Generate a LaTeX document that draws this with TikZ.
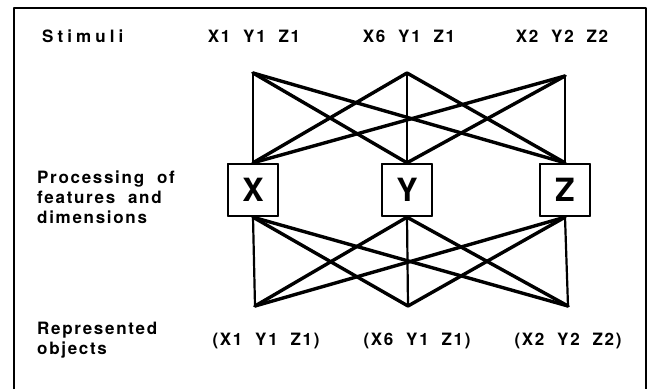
\documentclass[tikz,border=0pt]{standalone}
\usepackage{fontspec}
\newfontfamily\heavyfont[LetterSpace=10]{texgyreheros-bold.otf}
\newfontfamily\widefont[LetterSpace=24]{texgyreheros-bold.otf}
\newfontfamily\boxfont{texgyreheros-bold.otf}
\usetikzlibrary{calc,positioning}

\tikzset{
  lbl/.style={font=\heavyfont\fontsize{17}{20}\selectfont, inner sep=0pt},
  link/.style={line width=3.4pt, line cap=round},
  stem/.style={line width=2.2pt},
  featbox/.style={draw, line width=2.4pt, fill=white, minimum width=50pt, minimum height=52pt, inner sep=0pt, font=\boxfont\fontsize{32}{34}\selectfont},
}

\begin{document}
\begin{tikzpicture}[x=1pt,y=-1pt, line join=round]
    \useasboundingbox(0,0)rectangle(655,389);

    % Rahmen
    \path[draw, line width=2.4pt](14,389)to(14,8)to(646,8)to(646,389);

    % Stimuli
    \node[lbl, anchor=west, font=\widefont\fontsize{17}{20}\selectfont](stim)at(42,36){Stimuli};
    \node[lbl](s1)at(254,36){X1~~Y1~~Z1};
    \node[lbl](s2)at(409,36){X6~~Y1~~Z1};
    \node[lbl](s3)at(562,36){X2~~Y2~~Z2};

    % Eingang
    \coordinate(T1)at(253,73);
    \coordinate(T2)at(407,73);
    \coordinate(T3)at(565,76);

    % Ausgang
    \coordinate(B1)at(255,306);
    \coordinate(B2)at(408,306);
    \coordinate(B3)at(568,306);

    % Merkmale
    \node[featbox](X)at(253,190){X};
    \node[featbox](Y)at(407,190){Y};
    \node[featbox](Z)at(565,190){Z};

    % Verbindungen oben
    \path[draw, stem](T1)to(X.north);
    \path[draw, link](T1)to(Y.north);
    \path[draw, link](T1)to(Z.north);
    \path[draw, link](T2)to(X.north);
    \path[draw, stem](T2)to(Y.north);
    \path[draw, link](T2)to(Z.north);
    \path[draw, link](T3)to(X.north);
    \path[draw, link](T3)to(Y.north);
    \path[draw, stem](T3)to(Z.north);

    % Verbindungen unten
    \path[draw, stem](X.south)to(B1);
    \path[draw, link](X.south)to(B2);
    \path[draw, link](X.south)to(B3);
    \path[draw, link](Y.south)to(B1);
    \path[draw, stem](Y.south)to(B2);
    \path[draw, link](Y.south)to(B3);
    \path[draw, link](Z.south)to(B1);
    \path[draw, link](Z.south)to(B2);
    \path[draw, stem](Z.south)to(B3);

    % Kaesten nochmal ueber die Linien
    \node[featbox]at(X){X};
    \node[featbox]at(Y){Y};
    \node[featbox]at(Z){Z};

    \node[lbl, anchor=west, align=left](proc)at(37,197){Processing~~of\\features~~and\\dimensions};

    % Objekte
    \node[lbl, anchor=west, align=left](repr)at(37,340){Represented\\objects};
    \node[lbl](o1)at(266,341){(X1~~Y1~~Z1)};
    \node[lbl](o2)at(417,341){(X6~~Y1~~Z1)};
    \node[lbl](o3)at(568,341){(X2~~Y2~~Z2)};
\end{tikzpicture}
\end{document}
